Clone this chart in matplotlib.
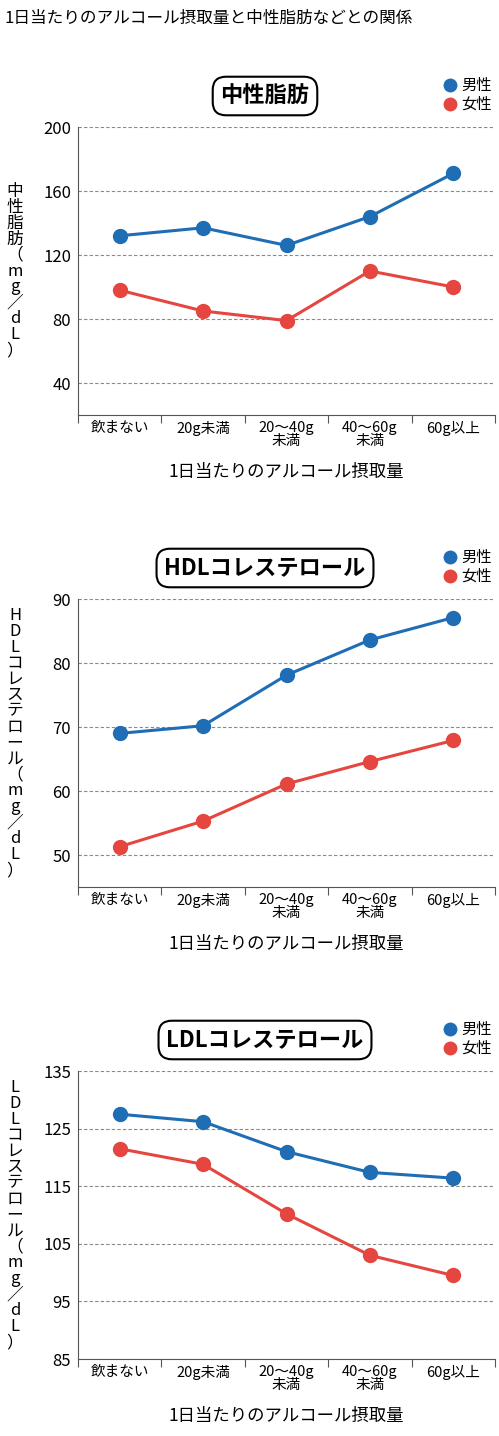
import matplotlib
matplotlib.use("Agg")
import matplotlib.pyplot as plt
from matplotlib.lines import Line2D

plt.rcParams['font.family'] = ['Noto Sans CJK JP', 'DejaVu Sans']

categories = ["飲まない", "20g未満", "20〜40g\n未満", "40〜60g\n未満", "60g以上"]
tg_male = [132, 137, 126, 144, 171]
tg_female = [98, 85, 79, 110, 100]
hdl_male = [69.0, 70.2, 78.1, 83.6, 87.1]
hdl_female = [51.3, 55.3, 61.1, 64.6, 67.9]
ldl_male = [127.5, 126.2, 121.0, 117.4, 116.4]
ldl_female = [121.5, 118.8, 110.2, 103.0, 99.5]

panels = [
    ("中性脂肪", "中性脂肪（mg／dL）", tg_male, tg_female, (20, 200), [40, 80, 120, 160, 200], 415),
    ("HDLコレステロール", "HDLコレステロール（mg／dL）", hdl_male, hdl_female, (45, 90), [50, 60, 70, 80, 90], 887),
    ("LDLコレステロール", "LDLコレステロール（mg／dL）", ldl_male, ldl_female, (85, 135), [85, 95, 105, 115, 125, 135], 1359),
]
BLUE = "#1f6db4"
RED = "#e5463f"
W, H = 499, 1436
fig = plt.figure(figsize=(W/100, H/100), dpi=100)
fig.text(5/W, 1-18/H, "1日当たりのアルコール摂取量と中性脂肪などとの関係", fontsize=12, va='center', ha='left')

for title, ylab, m, f, ylim, yticks, bot in panels:
    ax = fig.add_axes([78/W, 1-bot/H, 417/W, 288/H])
    x = range(len(categories))
    ax.plot(x, m, color=BLUE, lw=2.2, marker='o', ms=10, zorder=3)
    ax.plot(x, f, color=RED, lw=2.2, marker='o', ms=10, zorder=3)
    ax.set_xlim(-0.5, 4.5)
    ax.set_ylim(*ylim)
    ax.set_yticks(yticks)
    ax.tick_params(axis='y', length=0, labelsize=12, pad=5)
    ax.yaxis.grid(True, ls=(0, (3, 2)), color='#888888', lw=0.8)
    ax.set_axisbelow(True)
    ax.set_xticks([-0.5, 0.5, 1.5, 2.5, 3.5, 4.5])
    ax.set_xticklabels([])
    ax.set_xticks(list(x), minor=True)
    ax.set_xticklabels(categories, minor=True, fontsize=10.5, linespacing=0.95, va='top')
    ax.tick_params(axis='x', which='major', length=6, color='#555555')
    ax.tick_params(axis='x', which='minor', length=0, pad=4)
    for s in ['top', 'right']:
        ax.spines[s].set_visible(False)
    for s in ['left', 'bottom']:
        ax.spines[s].set_color('#555555')
    top = bot - 288
    fig.text(265/W, 1-(top-31)/H, title, fontsize=16, fontweight='bold', ha='center', va='center',
             bbox=dict(boxstyle='round,pad=0.35,rounding_size=0.6', fc='white', ec='black', lw=1.5))
    fig.text(15/W, 1-(top+144)/H, "\n".join(ylab), fontsize=12, ha='center', va='center', linespacing=0.92)
    fig.text(286/W, 1-(bot+57)/H, "1日当たりのアルコール摂取量", fontsize=12.5, ha='center', va='center')
    fig.add_artist(Line2D([450/W], [1-(top-42)/H], marker='o', ms=9, color=BLUE, transform=fig.transFigure))
    fig.add_artist(Line2D([450/W], [1-(top-23)/H], marker='o', ms=9, color=RED, transform=fig.transFigure))
    fig.text(461/W, 1-(top-42)/H, "男性", fontsize=11, va='center')
    fig.text(461/W, 1-(top-23)/H, "女性", fontsize=11, va='center')

fig.savefig("out.png", dpi=100, facecolor='white')
